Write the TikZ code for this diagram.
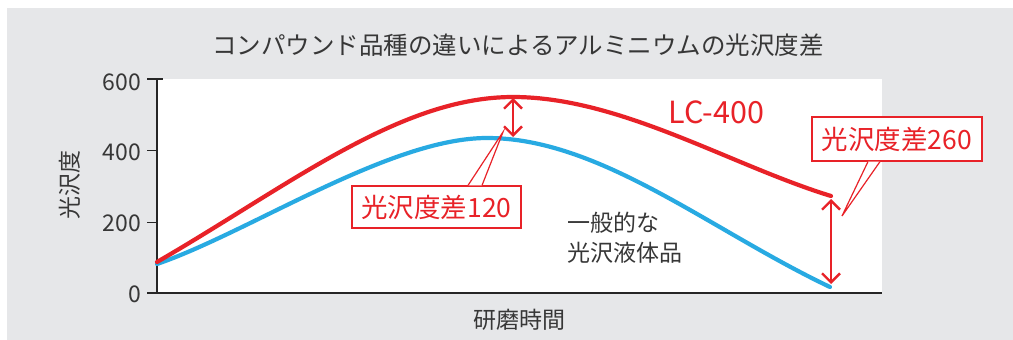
\documentclass[tikz,border=0pt]{standalone}
\usepackage{fontspec}
\setmainfont{Noto Sans CJK JP}
\usetikzlibrary{arrows.meta}
\definecolor{glossred}{RGB}{232,34,40}
\definecolor{glossblue}{RGB}{40,170,226}
\definecolor{panelgrey}{RGB}{230,231,233}
\definecolor{inkgrey}{RGB}{55,55,55}
\begin{document}
\begin{tikzpicture}[x=1pt,y=-1pt]
\tikzstyle{title} = [font=\fontsize{24.5}{24.5}\selectfont,color=inkgrey,inner sep=0];
\tikzstyle{ticklabel} = [font=\fontsize{23}{23}\selectfont,color=inkgrey,inner sep=0,anchor=east];
\tikzstyle{axislabel} = [font=\fontsize{23}{23}\selectfont,color=inkgrey,inner sep=0];
\tikzstyle{axis} = [line width=1.3,color=black!85];
\tikzstyle{redcurve} = [line width=4.2,color=glossred,line cap=round];
\tikzstyle{bluecurve} = [line width=4.2,color=glossblue,line cap=round];
\tikzstyle{diffarrow} = [line width=2.4,color=glossred,{Straight Barb[length=9pt,width=18pt]}-{Straight Barb[length=9pt,width=18pt]}];
\tikzstyle{callout} = [font=\fontsize{26.5}{26.5}\selectfont,color=glossred,draw=glossred,fill=white,line width=1.2,inner sep=0];
\tikzstyle{pointer} = [draw=glossred,fill=white,line width=1.2,line join=miter];
\tikzstyle{note} = [font=\fontsize{23}{30}\selectfont,color=inkgrey,inner sep=0,align=left];
\useasboundingbox (0,0) rectangle (1013,340);
\fill[panelgrey] (7,8) rectangle (1013,340);
\fill[white] (157,79) rectangle (882,293);

\node [title] (head) at (518,45) {コンパウンド品種の違いによるアルミニウムの光沢度差};
\node [axislabel,rotate=90] (ylab) at (70,185) {光沢度};
\node [axislabel] (xlab) at (519,320) {研磨時間};

\draw [axis] (157,79) -- (157,293) -- (882,293);
\draw [axis] (147,79) -- (163,79);
\foreach \yy in {150.7,222.3,293} \draw [axis] (147,\yy) -- (157,\yy);
\node [ticklabel] (t600) at (141,82) {600};
\node [ticklabel] (t400) at (141,152) {400};
\node [ticklabel] (t200) at (141,223) {200};
\node [ticklabel] (t0) at (141,294) {0};

% glossiness curves
\draw [bluecurve] (157,264) .. controls (250,232) and (390,138) .. (487,138)
  .. controls (600,138) and (710,230) .. (830,287);
\draw [redcurve] (157,262) .. controls (290,185) and (400,97) .. (513,97)
  .. controls (620,97) and (730,165) .. (831,196);

\node [color=glossred,font=\fontsize{30.5}{30.5}\selectfont,inner sep=0] (lc) at (716.5,112) {LC-400};
\node [note,anchor=west] (plain) at (567,238) {一般的な\\光沢液体品};

\coordinate (redtop) at (513,98);
\coordinate (bluetop) at (513,137);
\draw [diffarrow] (redtop) -- (bluetop);
\coordinate (redend) at (831,199);
\coordinate (blueend) at (831,284);
\draw [diffarrow] (redend) -- (blueend);

\node [callout,minimum width=169,minimum height=42] (gap120) at (436.5,207) {光沢度差120};
\coordinate (tip120) at (503,132);
\path [pointer] ([xshift=31.5]gap120.north) -- (tip120) -- ([xshift=45.5]gap120.north);

\node [callout,minimum width=170,minimum height=44] (gap260) at (897,139) {光沢度差260};
\coordinate (tip260) at (842,216);
\path [pointer] ([xshift=-29]gap260.south) -- (tip260) -- ([xshift=-17]gap260.south);
\end{tikzpicture}
\end{document}
